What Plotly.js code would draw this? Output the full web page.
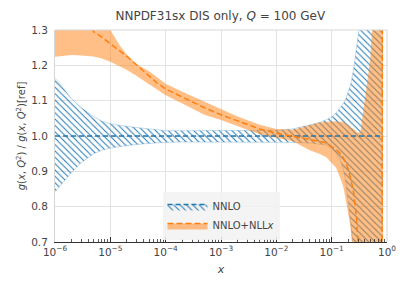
<!DOCTYPE html>
<html>
<head>
<meta charset="utf-8">
<script src="https://cdn.plot.ly/plotly-3.0.1.min.js"></script>
<style>html,body{margin:0;padding:0;background:#fff;}#chart{width:408px;height:289px;}</style>
</head>
<body>
<div id="chart"></div>
<script>
// x grid (momentum fraction)
const xVals = [1e-6, 2e-6, 3e-6, 5e-6, 7e-6, 1e-5, 1.5e-5, 2e-5, 3e-5, 5e-5, 7e-5, 1e-4, 2e-4, 5e-4, 1e-3, 2e-3, 5e-3, 1e-2, 2e-2, 4e-2, 6e-2, 8e-2, 0.1, 0.12, 0.14, 0.16, 0.18, 0.2, 0.22, 0.25, 0.28, 0.3, 0.33, 0.36, 0.4, 0.45, 0.5, 0.55, 0.6, 0.7, 0.8, 0.85];

// NNLO (reference) ratio: central and band
const nnloCentral = [1,1,1,1,1,1,1,1,1,1,1,1,1,1,1,1,1,1,1,1,1,1,1,1,1,1,1,1,1,1,1,1,1,1,1,1,1,1,1,1,1,1];
const nnloUpper = [1.164, 1.105, 1.08, 1.055, 1.042, 1.035, 1.03, 1.027, 1.024, 1.02, 1.017, 1.015, 1.015, 1.015, 1.015, 1.015, 1.015, 1.016, 1.02, 1.03, 1.038, 1.046, 1.054, 1.065, 1.079, 1.09, 1.105, 1.125, 1.145, 1.19, 1.24, 1.27, 1.33, 1.40, 1.5, 1.65, 1.8, 2.0, 2.2, 2.6, 3.0, 3.2];
const nnloLower = [0.842, 0.897, 0.925, 0.95, 0.96, 0.966, 0.97, 0.973, 0.976, 0.979, 0.981, 0.982, 0.983, 0.983, 0.983, 0.983, 0.983, 0.983, 0.982, 0.98, 0.978, 0.975, 0.965, 0.952, 0.935, 0.91, 0.87, 0.82, 0.76, 0.67, 0.55, 0.48, 0.38, 0.3, 0.2, 0.1, 0.0, -0.1, -0.2, -0.35, -0.5, -0.6];

// NNLO+NLLx ratio: central and band
const nllCentral = [1.45, 1.40, 1.36, 1.295, 1.28, 1.26, 1.24, 1.225, 1.20, 1.168, 1.15, 1.133, 1.11, 1.08, 1.06, 1.042, 1.02, 1.008, 1.0, 0.99, 0.985, 0.98, 0.97, 0.962, 0.952, 0.94, 0.925, 0.905, 0.88, 0.84, 0.77, 0.71, 0.62, 0.52, 0.4, 0.3, 0.2, 0.1, 0.0, -0.2, -0.2, 3.0];
const nllUpper = [1.6, 1.55, 1.5, 1.44, 1.39, 1.30, 1.255, 1.23, 1.203, 1.183, 1.165, 1.148, 1.125, 1.097, 1.075, 1.055, 1.032, 1.02, 1.018, 1.03, 1.038, 1.04, 1.042, 1.042, 1.04, 1.04, 1.035, 1.032, 1.025, 1.02, 1.012, 1.01, 1.01, 1.05, 1.11, 1.165, 1.22, 1.30, 1.4, 1.6, 1.8, 2.0];
const nllLower = [1.224, 1.229, 1.228, 1.225, 1.219, 1.21, 1.197, 1.187, 1.17, 1.146, 1.13, 1.115, 1.092, 1.06, 1.045, 1.028, 1.005, 0.995, 0.985, 0.96, 0.95, 0.94, 0.925, 0.91, 0.885, 0.86, 0.82, 0.78, 0.74, 0.64, 0.55, 0.5, 0.4, 0.3, 0.2, 0.1, 0.0, -0.1, -0.2, -0.35, -0.5, -0.6];

const xTickVals = [1e-6, 1e-5, 1e-4, 1e-3, 1e-2, 1e-1, 1];
const xTickText = ['10<sup>−6</sup>', '10<sup>−5</sup>', '10<sup>−4</sup>', '10<sup>−3</sup>', '10<sup>−2</sup>', '10<sup>−1</sup>', '10<sup>0</sup>'];
const yTickVals = [0.7, 0.8, 0.9, 1.0, 1.1, 1.2, 1.3];
const yTickText = ['0.7', '0.8', '0.9', '1.0', '1.1', '1.2', '1.3'];

const BLUE = '#1f77b4', ORANGE = '#ff7f0e';
const hatch = {shape: '\\', fgcolor: BLUE, bgcolor: 'rgba(255,255,255,0)', size: 4.5, solidity: 0.22};

const traces = [
  {x: xVals, y: nnloUpper, mode: 'lines', line: {color: 'rgba(31,119,180,0.25)', width: 1}, showlegend: false, hoverinfo: 'skip'},
  {x: xVals, y: nnloLower, mode: 'lines', fill: 'tonexty', fillcolor: 'rgba(31,119,180,0.04)', fillpattern: hatch,
   line: {color: 'rgba(31,119,180,0.25)', width: 1}, showlegend: false, hoverinfo: 'skip'},
  {x: xVals, y: nllUpper, mode: 'lines', line: {color: 'rgba(255,127,14,0)', width: 0}, showlegend: false, hoverinfo: 'skip'},
  {x: xVals, y: nllLower, mode: 'lines', fill: 'tonexty', fillcolor: 'rgba(255,127,14,0.5)',
   line: {color: 'rgba(255,127,14,0)', width: 0}, showlegend: false, hoverinfo: 'skip'},
  {x: xVals, y: nnloCentral, mode: 'lines', line: {color: BLUE, width: 1.5, dash: '5px,3px'}, showlegend: false},
  {x: xVals, y: nllCentral, mode: 'lines', line: {color: ORANGE, width: 1.5, dash: '6px,3px'}, showlegend: false},
  // legend entries
  {x: [null], y: [null], mode: 'lines', fill: 'toself', fillcolor: 'rgba(31,119,180,0.04)', fillpattern: hatch,
   line: {color: BLUE, width: 1.5, dash: '5px,3px'}, name: 'NNLO'},
  {x: [null], y: [null], mode: 'lines', fill: 'toself', fillcolor: 'rgba(255,127,14,0.5)',
   line: {color: ORANGE, width: 1.5, dash: '6px,3px'}, name: 'NNLO+NLL<i>x</i>'}
];

const FONT = 'DejaVu Sans, sans-serif';
const layout = {
  width: 408, height: 289,
  margin: {l: 55, r: 21, t: 30, b: 47},
  paper_bgcolor: '#fff', plot_bgcolor: '#fff',
  font: {family: FONT, size: 10, color: '#444'},
  title: {text: 'NNPDF31sx DIS only, <i>Q</i> = 100 GeV', font: {family: FONT, size: 12, color: '#444'}, x: 0.54, xanchor: 'center', y: 0.945, yanchor: 'middle'},
  xaxis: {
    type: 'log', range: [-6, 0],
    tickmode: 'array', tickvals: xTickVals, ticktext: xTickText,
    showgrid: true, gridcolor: '#e3e3e3', gridwidth: 1,
    showline: true, linecolor: '#333', linewidth: 1.3,
    ticks: 'inside', ticklen: 5, tickcolor: '#333', tickwidth: 1,
    minor: {ticks: 'inside', ticklen: 3, tickcolor: '#333', tickwidth: 0.8, showgrid: false, dtick: 'D1'},
    zeroline: false,
    tickfont: {family: FONT, size: 10.5, color: '#444'},
    title: {text: '<i>x</i>', font: {family: FONT, size: 11, color: '#444'}, standoff: 8}
  },
  yaxis: {
    range: [0.7, 1.3], tickmode: 'array', tickvals: yTickVals, ticktext: yTickText,
    showgrid: true, gridcolor: '#e3e3e3', gridwidth: 1,
    showline: true, linecolor: '#d6d6d6', linewidth: 1,
    ticks: '', zeroline: false, ticklabelstandoff: 4,
    tickfont: {family: FONT, size: 10.5, color: '#444'},
    title: {text: '<i>g</i>(<i>x</i>, <i>Q</i><sup>2</sup>) / <i>g</i>(<i>x</i>, <i>Q</i><sup>2</sup>)[ref]', font: {family: FONT, size: 10, color: '#444'}, standoff: 3}
  },
  shapes: [
    {type: 'line', xref: 'paper', yref: 'paper', x0: 0, x1: 1, y0: 1, y1: 1, line: {color: '#d6d6d6', width: 1}},
    {type: 'line', xref: 'paper', yref: 'paper', x0: 1, x1: 1, y0: 0, y1: 1, line: {color: '#d6d6d6', width: 1}}
  ],
  legend: {
    x: 0.5, xanchor: 'center', y: 0.01, yanchor: 'bottom', traceorder: 'normal',
    bgcolor: 'rgba(242,242,242,0.85)', bordercolor: 'rgba(220,220,220,0.9)', borderwidth: 0,
    font: {family: FONT, size: 10, color: '#444'},
    tracegroupgap: 0, itemwidth: 40
  },
  showlegend: true
};

Plotly.newPlot('chart', traces, layout, {staticPlot: true, displayModeBar: false});
</script>
</body>
</html>
